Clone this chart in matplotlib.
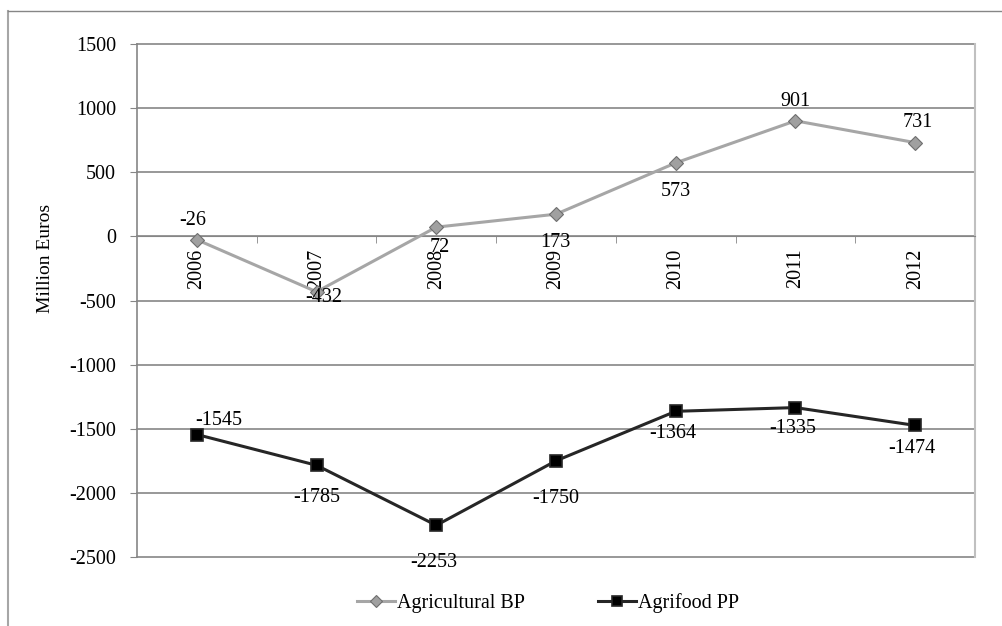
import matplotlib.pyplot as plt
from matplotlib.lines import Line2D

years = ["2006", "2007", "2008", "2009", "2010", "2011", "2012"]
agricultural_bp = [-26, -432, 72, 173, 573, 901, 731]
agrifood_pp = [-1545, -1785, -2253, -1750, -1364, -1335, -1474]

# label offsets (pixels) for each data label
bp_offsets = [(-4, 19), (7, -6), (3, -20), (-1, -28), (0, -29), (0, 19), (3, 20)]
pp_offsets = [(22, 14), (0, -32), (-3, -37), (0, -38), (-3, -22), (-3, -21), (-3, -23)]

plt.rcParams["font.family"] = ["Liberation Serif", "DejaVu Serif"]
FS = 14.5

fig = plt.figure(figsize=(10.03, 6.26), dpi=100)
ax = fig.add_axes([137 / 1003, 1 - 557 / 626, (975 - 137) / 1003, (557 - 44) / 626])

x = list(range(len(years)))
ax.plot(x, agricultural_bp, color="#a6a6a6", lw=2.2, marker="D", ms=7,
        mfc="#a0a0a0", mec="#6e6e6e", mew=0.8, label="Agricultural BP", zorder=3)
ax.plot(x, agrifood_pp, color="#262626", lw=2.2, marker="s", ms=8.5,
        mfc="black", mec="#262626", mew=1.2, label="Agrifood PP", zorder=3)

for xi, v, off in zip(x, agricultural_bp, bp_offsets):
    ax.annotate(str(v), (xi, v), xytext=off, textcoords="offset pixels",
                ha="center", va="center", fontsize=FS, zorder=4)
for xi, v, off in zip(x, agrifood_pp, pp_offsets):
    ax.annotate(str(v), (xi, v), xytext=off, textcoords="offset pixels",
                ha="center", va="center", fontsize=FS, zorder=4)

ax.set_xlim(-0.5, len(years) - 0.5)
ax.set_ylim(-2500, 1500)
yticks = list(range(-2500, 1501, 500))
ax.set_yticks(yticks)
ax.set_yticklabels([str(t) for t in yticks], fontsize=FS)
for t in yticks:
    ax.axhline(t, color="#868686", lw=1.2, zorder=1, clip_on=False)

# category axis crosses at zero
ax.spines["bottom"].set_position(("data", 0))
ax.spines["bottom"].set_color("#868686")
ax.spines["top"].set_visible(False)
ax.spines["left"].set_color("#868686")
ax.spines["left"].set_linewidth(1.2)
ax.spines["right"].set_color("#c0c0c0")
ax.spines["right"].set_linewidth(1.5)

ax.set_xticks(x)
ax.set_xticklabels(years, rotation=90, fontsize=FS, va="top")
ax.tick_params(axis="x", which="major", length=0, pad=9)
ax.set_xticks([i - 0.5 for i in range(1, len(years))], minor=True)
ax.tick_params(axis="x", which="minor", length=5, color="#868686", direction="out")
ax.tick_params(axis="y", length=5, color="#868686", pad=10)

fig.text(46 / 1003, 1 - 258 / 626, "Million Euros", rotation=90,
         ha="center", va="center", fontsize=14)

fig.legend(loc="center", bbox_to_anchor=(548 / 1003, 1 - 603 / 626), ncol=2,
           frameon=False, fontsize=FS, handlelength=1.9, handletextpad=0.1,
           columnspacing=3.6, markerscale=0.85)

# outer chart frame
fig.add_artist(Line2D([8.5 / 1003, 8.5 / 1003], [0, 1 - 11 / 626],
                      transform=fig.transFigure, color="#a6a6a6", lw=1.5))
fig.add_artist(Line2D([8 / 1003, 1], [1 - 11 / 626, 1 - 11 / 626],
                      transform=fig.transFigure, color="#868686", lw=1))

fig.savefig("out.png", dpi=100)
